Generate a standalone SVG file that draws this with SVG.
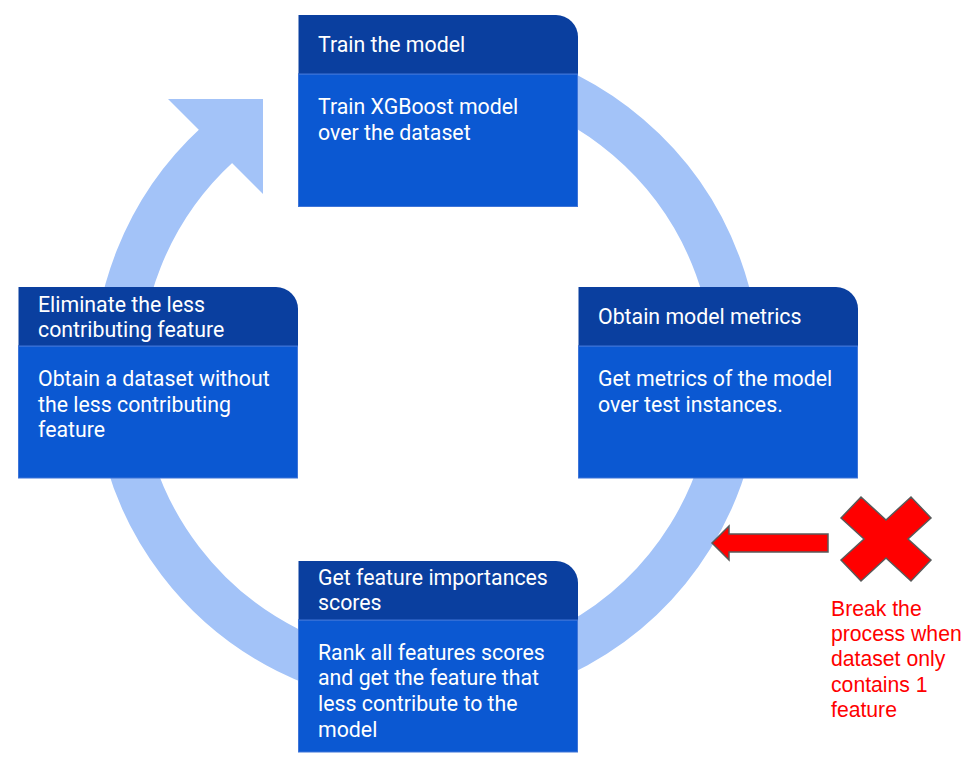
<svg xmlns="http://www.w3.org/2000/svg" width="970" height="765" viewBox="0 0 970 765">
<style>
.hd{fill:#0a3f9f;}
.bd{fill:#0b58d2;stroke:#3f75d8;stroke-width:1;}
.sep{stroke:#3f75d8;stroke-width:1.2;}
.t{font-family:Roboto,"Noto Sans",sans-serif;font-size:21.3px;fill:#ffffff;}
.r{font-family:"Liberation Sans",Arial,sans-serif;font-size:21.2px;fill:#ff0000;}
.ring{fill:none;stroke:#a3c3f8;stroke-width:47;}
</style>
<rect width="970" height="765" fill="#ffffff"/>
<g id="connectors">
<path class="ring" d="M346.8,73.6 A310,310 0 1 1 217.6,144.4"/>
<polygon points="168,99 263,99 263,194" fill="#a3c3f8"/>
<polygon points="712,543 729,526 729,534 828,534 828,552 729,552 729,560" fill="#ff0000" stroke="#595959" stroke-width="1.5" stroke-linejoin="miter"/>
</g>
<g id="node-train">
<rect class="bd" x="298.5" y="74" width="279" height="132.5"/>
<path class="hd" d="M298.5,15 H556 A22,22 0 0 1 578,37 V74 H298.5 Z"/>
<line class="sep" x1="298.5" y1="74" x2="578" y2="74"/>
<text class="t" x="318" y="52.3">Train the model</text>
<text class="t" x="318" y="114">Train XGBoost model</text>
<text class="t" x="318" y="139.5">over the dataset</text>
</g>
<g id="node-metrics">
<rect class="bd" x="578.5" y="346" width="279" height="132"/>
<path class="hd" d="M578.5,287 H836 A22,22 0 0 1 858,309 V346 H578.5 Z"/>
<line class="sep" x1="578.5" y1="346" x2="858" y2="346"/>
<text class="t" x="598" y="323.5">Obtain model metrics</text>
<text class="t" x="598" y="386">Get metrics of the model</text>
<text class="t" x="598" y="411.5">over test instances.</text>
</g>
<g id="node-importances">
<rect class="bd" x="298.5" y="620" width="279" height="132"/>
<path class="hd" d="M298.5,561 H556 A22,22 0 0 1 578,583 V620 H298.5 Z"/>
<line class="sep" x1="298.5" y1="620" x2="578" y2="620"/>
<text class="t" x="318" y="584.5">Get feature importances</text>
<text class="t" x="318" y="610">scores</text>
<text class="t" x="318" y="659.5">Rank all features scores</text>
<text class="t" x="318" y="685">and get the feature that</text>
<text class="t" x="318" y="710.5">less contribute to the</text>
<text class="t" x="318" y="736.5">model</text>
</g>
<g id="node-eliminate">
<rect class="bd" x="18.5" y="346" width="279" height="132"/>
<path class="hd" d="M18.5,287 H276 A22,22 0 0 1 298,309 V346 H18.5 Z"/>
<line class="sep" x1="18.5" y1="346" x2="298" y2="346"/>
<text class="t" x="38" y="311.5">Eliminate the less</text>
<text class="t" x="38" y="337">contributing feature</text>
<text class="t" x="38" y="386">Obtain a dataset without</text>
<text class="t" x="38" y="411.5">the less contributing</text>
<text class="t" x="38" y="437">feature</text>
</g>
<g id="node-break">
<polygon points="841,518 861,497 886,520 911,497 931,518 908,539 931,560 911,581 886,558 861,581 841,560 864,539" fill="#ff0000" stroke="#595959" stroke-width="1.5"/>
<text class="r" x="831" y="616">Break the</text>
<text class="r" x="831" y="641">process when</text>
<text class="r" x="831" y="666">dataset only</text>
<text class="r" x="831" y="691.5">contains 1</text>
<text class="r" x="831" y="716.5">feature</text>
</g>
</svg>
